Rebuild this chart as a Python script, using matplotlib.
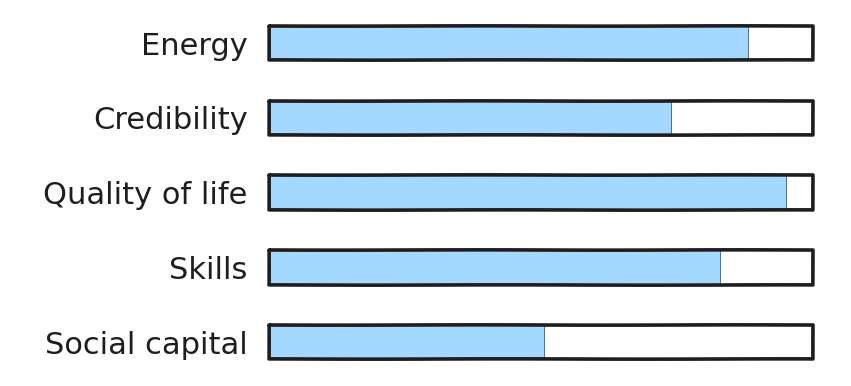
import matplotlib
matplotlib.use("Agg")
import matplotlib.pyplot as plt

labels = ["Energy", "Credibility", "Quality of life", "Skills", "Social capital"]
values = [0.88, 0.74, 0.95, 0.83, 0.505]
full = [1.0, 1.0, 1.0, 1.0, 1.0]

fill_color = "#a5d8ff"
ink = "#1e1e1e"

fig = plt.figure(figsize=(8.51, 3.86), dpi=100)
# axes spans the bar outlines horizontally, one row per 75 px vertically
ax = fig.add_axes([267 / 851, 0.017, (815 - 267) / 851, 0.968])

ypos = list(range(len(labels)))
fills = ax.barh(ypos, values, height=0.46, color=fill_color,
                edgecolor="#3b5a78", linewidth=0.6, zorder=2)
boxes = ax.barh(ypos, full, height=0.46, color="none",
                edgecolor=ink, linewidth=2.6, zorder=3)
for b in fills:
    b.set_sketch_params(scale=0.12, length=300, randomness=2)
for b in boxes:
    b.set_joinstyle("round")
    b.set_sketch_params(scale=0.15, length=300, randomness=2)

ax.set_xlim(-0.004, 1.004)
ax.set_ylim(4.5, -0.5)
ax.set_yticks(ypos)
ax.set_yticklabels(labels, fontsize=22, color=ink, family="DejaVu Sans")
ax.tick_params(axis="y", length=0, pad=14)
ax.set_xticks([])
for s in ax.spines.values():
    s.set_visible(False)

fig.savefig("out.png", dpi=100, facecolor="white")
